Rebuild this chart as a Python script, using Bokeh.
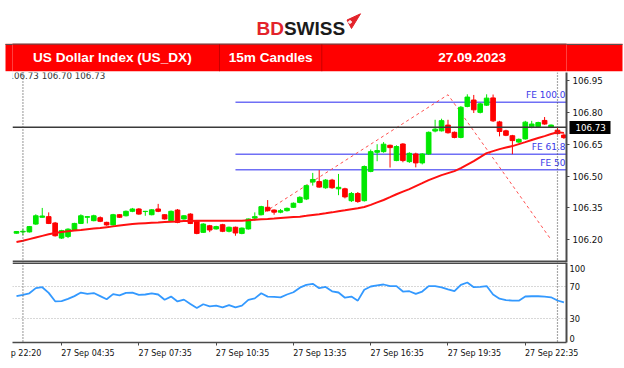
from bokeh.plotting import figure
from bokeh.layouts import column
from bokeh.models import Range1d, FixedTicker, PrintfTickFormatter, Span, ColumnDataSource, LinearAxis
from bokeh.core.properties import value
from bokeh.embed import file_html
from bokeh.resources import INLINE

# ---------------- data ----------------
opens = [106.231, 106.237, 106.237, 106.274, 106.306, 106.309, 106.279, 106.208, 106.215, 106.246,
         106.277, 106.306, 106.290, 106.304, 106.282, 106.270, 106.318, 106.313, 106.334, 106.345,
         106.333, 106.318, 106.345, 106.318, 106.290, 106.340, 106.298, 106.321, 106.287, 106.235,
         106.266, 106.251, 106.271, 106.240, 106.259, 106.230, 106.251, 106.302, 106.318, 106.353,
         106.340, 106.330, 106.337, 106.353, 106.376, 106.392, 106.472, 106.474, 106.445, 106.481,
         106.440, 106.440, 106.384, 106.418, 106.384, 106.522, 106.612, 106.615, 106.645, 106.573,
         106.651, 106.568, 106.604, 106.562, 106.604, 106.712, 106.713, 106.740, 106.706, 106.682,
         106.828, 106.858, 106.800, 106.834, 106.868, 106.755, 106.713, 106.690, 106.660, 106.675,
         106.732, 106.733, 106.762, 106.730, 106.716, 106.693]
highs = [106.241, 106.250, 106.265, 106.320, 106.350, 106.329, 106.284, 106.247, 106.254, 106.280,
         106.320, 106.312, 106.318, 106.310, 106.285, 106.322, 106.320, 106.338, 106.350, 106.349,
         106.336, 106.345, 106.369, 106.320, 106.338, 106.345, 106.316, 106.325, 106.290, 106.278,
         106.270, 106.266, 106.275, 106.262, 106.262, 106.258, 106.300, 106.329, 106.360, 106.387,
         106.343, 106.345, 106.352, 106.376, 106.405, 106.460, 106.515, 106.528, 106.486, 106.487,
         106.510, 106.445, 106.425, 106.425, 106.550, 106.625, 106.650, 106.660, 106.648, 106.645,
         106.655, 106.612, 106.610, 106.608, 106.710, 106.765, 106.770, 106.765, 106.710, 106.830,
         106.885, 106.882, 106.845, 106.885, 106.884, 106.760, 106.718, 106.694, 106.677, 106.760,
         106.760, 106.756, 106.778, 106.743, 106.730, 106.700]
lows = [106.229, 106.222, 106.234, 106.270, 106.304, 106.274, 106.215, 106.204, 106.208, 106.243,
        106.274, 106.277, 106.287, 106.283, 106.266, 106.266, 106.303, 106.310, 106.330, 106.318,
        106.313, 106.315, 106.330, 106.295, 106.287, 106.278, 106.295, 106.274, 106.226, 106.232,
        106.236, 106.248, 106.236, 106.235, 106.219, 106.226, 106.248, 106.290, 106.315, 106.333,
        106.318, 106.325, 106.333, 106.350, 106.372, 106.387, 106.455, 106.445, 106.440, 106.440,
        106.410, 106.395, 106.378, 106.374, 106.380, 106.518, 106.570, 106.610, 106.540, 106.570,
        106.565, 106.562, 106.541, 106.555, 106.600, 106.706, 106.710, 106.700, 106.678, 106.678,
        106.824, 106.797, 106.795, 106.830, 106.755, 106.687, 106.688, 106.603, 106.656, 106.672,
        106.725, 106.730, 106.742, 106.726, 106.695, 106.675]
closes = [106.239, 106.240, 106.262, 106.313, 106.312, 106.277, 106.219, 106.243, 106.250, 106.277,
          106.313, 106.309, 106.313, 106.287, 106.270, 106.318, 106.306, 106.334, 106.345, 106.321,
          106.334, 106.341, 106.334, 106.298, 106.334, 106.282, 106.313, 106.277, 106.230, 106.274,
          106.246, 106.262, 106.240, 106.259, 106.232, 106.255, 106.298, 106.309, 106.356, 106.337,
          106.330, 106.337, 106.348, 106.372, 106.400, 106.455, 106.484, 106.448, 106.481, 106.445,
          106.447, 106.402, 106.418, 106.380, 106.545, 106.615, 106.620, 106.650, 106.634, 106.639,
          106.573, 106.607, 106.562, 106.604, 106.706, 106.721, 106.761, 106.704, 106.682, 106.824,
          106.872, 106.812, 106.840, 106.867, 106.760, 106.710, 106.692, 106.667, 106.673, 106.754,
          106.745, 106.752, 106.745, 106.740, 106.700, 106.681]
moving_avg = [106.1895, 106.1957, 106.2032, 106.2107, 106.2183, 106.2258, 106.2319, 106.2367, 106.2404, 106.2437,
              106.2466, 106.2499, 106.2532, 106.2555, 106.2593, 106.2631, 106.2668, 106.2706, 106.2744, 106.2763,
              106.2782, 106.2801, 106.2819, 106.2838, 106.2852, 106.2866, 106.2881, 106.2890, 106.2900, 106.2900,
              106.2900, 106.2900, 106.2900, 106.2900, 106.2900, 106.2900, 106.2923, 106.2947, 106.2970, 106.2984,
              106.3003, 106.3027, 106.3050, 106.3069, 106.3088, 106.3126, 106.3168, 106.3206, 106.3248, 106.3291,
              106.3342, 106.3390, 106.3442, 106.3489, 106.3545, 106.3644, 106.3762, 106.3875, 106.4007, 106.4144,
              106.4267, 106.4385, 106.4526, 106.4667, 106.4809, 106.4927, 106.5045, 106.5139, 106.5233, 106.5375,
              106.5540, 106.5705, 106.5893, 106.6082, 106.6176, 106.6270, 106.6341, 106.6412, 106.6506, 106.6600,
              106.6695, 106.6789, 106.6883, 106.6978, 106.7062, 106.7034]
rsi_values = [58.0, 59.6, 61.5, 68.0, 69.1, 62.0, 51.5, 51.8, 54.5, 58.0,
              62.4, 60.7, 61.8, 58.0, 54.0, 60.5, 59.0, 62.0, 62.4, 59.5,
              60.0, 61.5, 60.0, 53.5, 57.4, 51.3, 53.6, 48.0, 43.0, 47.8,
              45.2, 46.0, 44.0, 46.8, 44.0, 46.0, 53.3, 55.2, 61.5, 57.4,
              57.0, 56.5, 60.0, 62.8, 68.5, 72.0, 73.3, 67.9, 69.5, 64.0,
              62.5, 56.0, 57.4, 52.3, 66.0, 70.0, 71.3, 72.5, 70.4, 70.4,
              63.7, 64.1, 60.8, 63.7, 70.4, 70.4, 69.0, 66.5, 64.1, 72.0,
              75.0, 69.1, 69.5, 70.6, 60.0, 54.8, 53.0, 52.3, 52.3, 57.5,
              57.8, 57.8, 57.3, 56.5, 52.5, 50.2]
bar_index = list(range(len(opens)))

time_tick_bars = [-0.9, 7, 19, 31, 43, 55, 67, 79]
time_labels = ["p 22:20", "27 Sep 04:35", "27 Sep 07:35", "27 Sep 10:35",
               "27 Sep 13:35", "27 Sep 16:35", "27 Sep 19:35", "27 Sep 22:35"]
price_ticks = [106.20, 106.35, 106.50, 106.65, 106.80, 106.95]
rsi_levels = [30, 70]
rsi_tick_values = [0, 30, 70, 100]
rsi_label_pos = [5, 30, 70, 92]
fe_levels = [106.848, 106.603, 106.530]
fe_names = ["FE 100.0", "FE 61.8", "FE 50"]
fe_start_bar = 34
fib_x = [36.2, 67.0, 82.9]
fib_y = [106.285, 106.883, 106.205]
current_price = 106.73
separator_bars = [1, 84]
ohlc_text = "106.73 106.70 106.73"
title_parts = ["US Dollar Index (US_DX)", "15m Candles", "27.09.2023"]

W = 624
FL, FR = 12, 58          # left / right borders (frame spans x 12..566)
FONT = "DejaVu Sans"
GREEN = "#00e800"
RED = "#ff0000"

# ---------------- header (logo + red title bar) ----------------
hdr = figure(width=W, height=72, x_range=Range1d(FL, W - FR), y_range=Range1d(72, 0),
             x_axis_location=None, y_axis_location="right", toolbar_location=None,
             output_backend="svg", min_border_left=FL, min_border_right=FR,
             min_border_top=0, min_border_bottom=0)
hdr.outline_line_color = None
hdr.grid.visible = False
bar_top, bar_bot = 43.3, 70.7
bar_mid = (bar_top + bar_bot) / 2
rax_h = hdr.yaxis[0]
lax_h = LinearAxis()
hdr.add_layout(lax_h, "left")
for axis, length in ((rax_h, 56), (lax_h, 7)):
    axis.ticker = FixedTicker(ticks=[bar_mid], minor_ticks=[bar_top + 0.3])
    axis.major_label_overrides = {bar_mid: ""}
    axis.major_label_standoff = 0
    axis.major_label_text_font_size = "0px"
    axis.axis_line_color = None
    axis.major_tick_in = 0
    axis.major_tick_out = length
    axis.major_tick_line_color = RED
    axis.major_tick_line_width = bar_bot - bar_top
    axis.major_tick_line_cap = "butt"
    axis.minor_tick_in = 0
    axis.minor_tick_out = length
    axis.minor_tick_line_color = "#555555"
    axis.minor_tick_line_width = 1

hdr.text(x=[256], y=[28.3], text=["BD"], text_font=value("Liberation Sans"), text_font_style="bold",
         text_font_size="19px", text_color="#e3232b", text_baseline="alphabetic", text_align="left")
hdr.text(x=[283.4], y=[28.3], text=["SWISS"], text_font=value("Liberation Sans"), text_font_style="bold",
         text_font_size="19px", text_color="#1b1b1b", text_baseline="alphabetic", text_align="left")
hdr.patch(x=[346.5, 360, 351], y=[19.5, 13.3, 28], fill_color="#e3232b", line_color="#e3232b")
hdr.segment(x0=[347.5, 349.5], y0=[21.5, 19.5], x1=[351.5, 349.5], y1=[21.5, 23.5],
            line_color="white", line_width=1.3)

sec_edges = [4.7, 219, 321.3, 622]
hdr.quad(left=[FL - 1], right=[W - FR + 1], top=[bar_top], bottom=[bar_bot], fill_color=RED, line_color=None)
hdr.segment(x0=[FL - 1], y0=[bar_top + 0.3], x1=[W - FR + 1], y1=[bar_top + 0.3], line_color="#555555", line_width=1)
hdr.segment(x0=sec_edges[1:3], y0=[43.8, 43.8], x1=sec_edges[1:3], y1=[bar_bot, bar_bot],
            line_color="#c80000", line_width=1)
centers = [(sec_edges[i] + sec_edges[i + 1]) / 2 for i in range(3)]
hdr.text(x=centers, y=[57.3] * 3, text=title_parts, text_font=value("Liberation Sans"), text_font_style="bold",
         text_font_size="13.6px", text_color="white", text_align="center", text_baseline="middle")

# ---------------- main price panel ----------------
xr = Range1d(-0.62, 85.40)
yr = Range1d(106.093, 106.9877)
main = figure(width=W, height=190, x_range=xr, y_range=yr, x_axis_location=None, y_axis_location="right",
              toolbar_location=None, output_backend="svg",
              min_border_left=FL, min_border_right=FR, min_border_top=0, min_border_bottom=0)
main.outline_line_color = None
main.grid.visible = False
ax = main.yaxis[0]
ax.ticker = FixedTicker(ticks=price_ticks)
ax.formatter = PrintfTickFormatter(format="%.2f")
ax.axis_line_color = "#4a4a4a"
ax.axis_line_width = 2
ax.major_tick_out = 3
ax.major_tick_in = 0
ax.major_tick_line_color = "#4a4a4a"
ax.minor_tick_in = 0
ax.minor_tick_out = 0
ax.major_label_standoff = 3
ax.major_label_text_font = FONT
ax.major_label_text_font_size = "8.7px"
ax.major_label_text_color = "#111111"

# current-price tag: a second right axis whose thick inward tick forms the black box
tag = LinearAxis()
main.add_layout(tag, "right")
tag.ticker = FixedTicker(ticks=[current_price], minor_ticks=[current_price])
tag.formatter = PrintfTickFormatter(format="%.2f")
tag.axis_line_color = None
tag.major_tick_line_color = None
tag.major_tick_out = 0
tag.major_tick_in = 0
tag.minor_tick_in = 36
tag.minor_tick_out = 5
tag.minor_tick_line_width = 13
tag.minor_tick_line_color = "black"
tag.minor_tick_line_cap = "butt"
tag.major_label_standoff = -35
tag.major_label_text_font = FONT
tag.major_label_text_font_size = "8.7px"
tag.major_label_text_color = "white"

colors = [GREEN if c >= o else RED for o, c in zip(opens, closes)]
src = ColumnDataSource(dict(x=bar_index, o=opens, h=highs, l=lows, c=closes,
                            top=[max(o, c) for o, c in zip(opens, closes)],
                            bot=[min(o, c) for o, c in zip(opens, closes)],
                            color=colors))

for lvl, name in zip(fe_levels, fe_names):
    main.segment(x0=[fe_start_bar], y0=[lvl], x1=[xr.end], y1=[lvl], line_color="#6f6ff5", line_width=1.5)
    main.text(x=[xr.end], y=[lvl], text=[name], x_offset=-1, y_offset=-2, text_align="right",
              text_baseline="bottom", text_font=value(FONT), text_font_size="9px", text_color="#3a3ae8")
main.line(fib_x, fib_y, line_color="#ff5050", line_dash="3 3", line_width=1)

main.add_layout(Span(location=current_price, dimension="width", line_color="#3a3a3a", line_width=1.5))
for sb in separator_bars:
    main.add_layout(Span(location=sb, dimension="height", line_color="#505050", line_dash="1 2", line_width=1.2))

main.segment(x0="x", y0="h", x1="x", y1="l", line_color="color", line_width=1, source=src)
main.vbar(x="x", width=0.72, top="top", bottom="bot", fill_color="color", line_color="color", source=src)
main.line(bar_index, moving_avg, line_color="#ff1010", line_width=2)

main.text(x=[xr.start], y=[yr.end], text=[ohlc_text], x_offset=-4, y_offset=-1.5, text_align="left",
          text_baseline="top", text_font=value(FONT), text_font_size="8.7px", text_color="#333333")
main.add_layout(Span(location=106.0972, dimension="width", line_color="#4a4a4a", line_width=2))

# ---------------- RSI panel ----------------
rsi = figure(width=W, height=106, x_range=xr, y_range=Range1d(0, 100), y_axis_location="right",
             toolbar_location=None, output_backend="svg",
             min_border_left=FL, min_border_right=FR, min_border_top=0, min_border_bottom=26)
rsi.outline_line_color = None
rsi.xgrid.visible = False
rax = rsi.yaxis[0]
rax.ticker = FixedTicker(ticks=rsi_label_pos)
rax.major_label_overrides = {p: str(v) for p, v in zip(rsi_label_pos, rsi_tick_values)}
rax.axis_line_color = "#4a4a4a"
rax.axis_line_width = 2
rax.major_tick_out = 0
rax.major_tick_in = 0
rax.minor_tick_out = 0
rax.minor_tick_in = 0
rax.major_label_standoff = 3
rax.major_label_text_font = FONT
rax.major_label_text_font_size = "8.3px"
rax.major_label_text_color = "#111111"
rsi.ygrid.ticker = FixedTicker(ticks=rsi_levels)
rsi.ygrid.grid_line_color = "#b0b0b0"
rsi.ygrid.grid_line_dash = "1 2"

label_centers = [round(t + len(lab) * 4.4 / 2 / 6.44, 2) for t, lab in zip(time_tick_bars, time_labels)]
xax = rsi.xaxis[0]
xax.ticker = FixedTicker(ticks=label_centers, minor_ticks=time_tick_bars)
xax.major_label_overrides = {c: lab for c, lab in zip(label_centers, time_labels)}
xax.axis_line_color = "#4a4a4a"
xax.axis_line_width = 1.5
xax.major_tick_out = 0
xax.major_tick_in = 0
xax.minor_tick_out = 3
xax.minor_tick_in = 0
xax.minor_tick_line_color = "#4a4a4a"
xax.major_label_standoff = 3
xax.major_label_text_font = FONT
xax.major_label_text_font_size = "8px"
xax.major_label_text_color = "#111111"

for sb in separator_bars:
    rsi.add_layout(Span(location=sb, dimension="height", line_color="#505050", line_dash="1 2", line_width=1.2))
rsi.add_layout(Span(location=99.4, dimension="width", line_color="#4a4a4a", line_width=2))
rsi.line(bar_index, rsi_values, line_color="#3399ff", line_width=1.8)

layout = column(hdr, main, rsi, spacing=0)
open("out.html", "w").write(file_html(layout, INLINE))
